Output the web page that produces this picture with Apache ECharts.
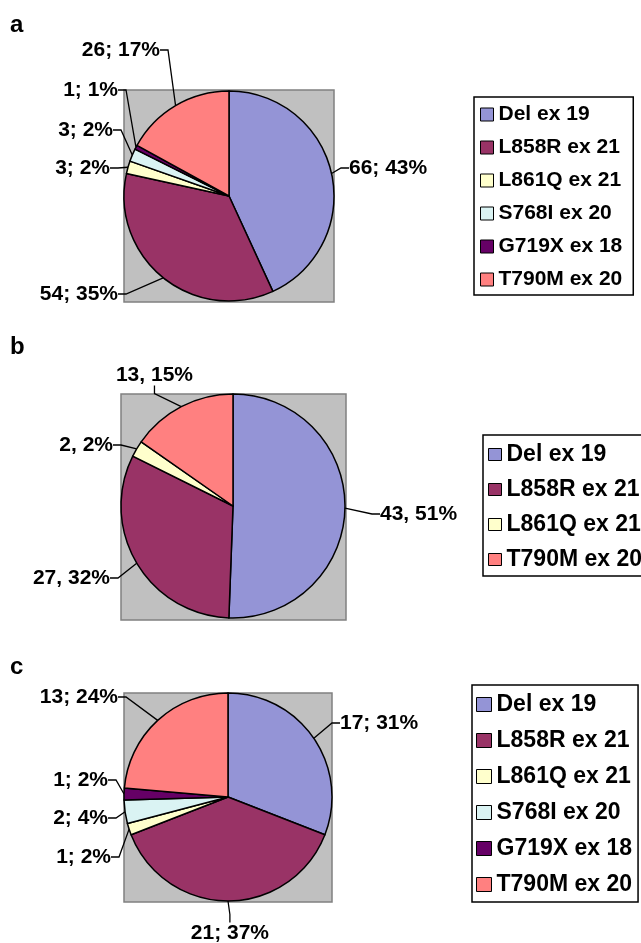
<!DOCTYPE html>
<html><head><meta charset="utf-8">
<script src="https://cdn.jsdelivr.net/npm/echarts@6/dist/echarts.min.js"></script>
<style>html,body{margin:0;padding:0;background:#fff}#c{width:641px;height:943px}</style>
</head><body><div id="c"></div>
<script>
// ---- data ----
const catsA = ['Del ex 19','L858R ex 21','L861Q ex 21','S768I ex 20','G719X ex 18','T790M ex 20'];
const valsA = [66, 54, 3, 3, 1, 26];
const pctA  = [43, 35, 2, 2, 1, 17];

const catsB = ['Del ex 19','L858R ex 21','L861Q ex 21','T790M ex 20'];
const valsB = [43, 27, 2, 13];
const pctB  = [51, 32, 2, 15];

const catsC = ['Del ex 19','L858R ex 21','L861Q ex 21','S768I ex 20','G719X ex 18','T790M ex 20'];
const valsC = [17, 21, 1, 2, 1, 13];
const pctC  = [31, 37, 2, 4, 2, 24];

// ---- styles / layout ----
const FONT = '"Liberation Sans", Arial, Helvetica, sans-serif';
const colorMap = {
  'Del ex 19': '#9494D6',
  'L858R ex 21': '#993366',
  'L861Q ex 21': '#FFFFCC',
  'S768I ex 20': '#DAF3F3',
  'G719X ex 18': '#660066',
  'T790M ex 20': '#FF8080'
};
// label anchor positions [x, y, align]
const labPosA = [[349,168,'left'],[118,294,'right'],[110,168,'right'],[113,130,'right'],[118,90,'right'],[160,50,'right']];
const labPosB = [[380,514,'left'],[110,578,'right'],[113,445,'right'],[193,375,'right']];
const labPosC = [[340,723,'left'],[269,933,'right'],[111,857,'right'],[108,818,'right'],[108,780,'right'],[118,697,'right']];

function mkSeries(cats, vals, pcts, sep, center, radius, labPos) {
  return {
    type: 'pie',
    center: center,
    radius: radius,
    startAngle: 90,
    clockwise: true,
    avoidLabelOverlap: false,
    animation: false,
    silent: true,
    itemStyle: { borderColor: '#000', borderWidth: 1.5 },
    label: {
      show: true, position: 'outside', color: '#000',
      fontFamily: FONT, fontWeight: 'bold', fontSize: 21,
      formatter: p => vals[p.dataIndex] + sep + ' ' + pcts[p.dataIndex] + '%'
    },
    labelLine: { show: true, length: 8, length2: 8, lineStyle: { color: '#000', width: 1.3 } },
    labelLayout: p => {
      const lp = labPos[p.dataIndex];
      return { x: lp[0], y: lp[1], align: lp[2], verticalAlign: 'middle' };
    },
    data: cats.map((n, i) => ({ name: n, value: vals[i], itemStyle: { color: colorMap[n] } }))
  };
}

function mkLegend(cats, left, top, padding, gap, fs, iw, ih) {
  return {
    orient: 'vertical', left: left, top: top, padding: padding, itemGap: gap,
    itemWidth: iw, itemHeight: ih, icon: 'rect', selectedMode: false,
    borderColor: '#000', borderWidth: 1.5, backgroundColor: '#fff',
    itemStyle: { borderColor: '#000', borderWidth: 1 },
    textStyle: { color: '#000', fontFamily: FONT, fontWeight: 'bold', fontSize: fs },
    data: cats
  };
}

const chart = echarts.init(document.getElementById('c'), null, { renderer: 'canvas' });
chart.setOption({
  animation: false,
  backgroundColor: '#fff',
  graphic: [
    { type: 'rect', shape: { x: 124, y: 90, width: 210, height: 212 }, style: { fill: '#C0C0C0', stroke: '#808080', lineWidth: 1.5 }, z: -1 },
    { type: 'rect', shape: { x: 121, y: 394, width: 225, height: 226 }, style: { fill: '#C0C0C0', stroke: '#808080', lineWidth: 1.5 }, z: -1 },
    { type: 'rect', shape: { x: 124, y: 693, width: 208, height: 209 }, style: { fill: '#C0C0C0', stroke: '#808080', lineWidth: 1.5 }, z: -1 },
    { type: 'text', x: 10, y: 25, style: { text: 'a', fill: '#000', font: 'bold 24px ' + FONT, verticalAlign: 'middle' } },
    { type: 'text', x: 10, y: 347, style: { text: 'b', fill: '#000', font: 'bold 24px ' + FONT, verticalAlign: 'middle' } },
    { type: 'text', x: 10, y: 667, style: { text: 'c', fill: '#000', font: 'bold 24px ' + FONT, verticalAlign: 'middle' } }
  ],
  legend: [
    mkLegend(catsA, 474, 97, [7, 11, 5, 6], 12, 21, 13, 13),
    mkLegend(catsB, 483, 435, [8, 4, 5, 5], 12, 23, 13, 12),
    mkLegend(catsC, 472, 685, [8, 6, 6, 4], 13, 23, 15, 14)
  ],
  series: [
    mkSeries(catsA, valsA, pctA, ';', [229, 196], 105, labPosA),
    mkSeries(catsB, valsB, pctB, ',', [233, 506], 112, labPosB),
    mkSeries(catsC, valsC, pctC, ';', [228, 797], 104, labPosC)
  ]
});
</script></body></html>
